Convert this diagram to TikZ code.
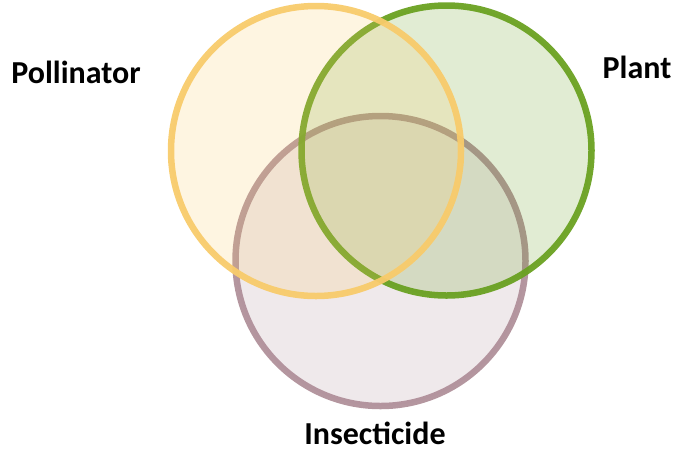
\documentclass[tikz,border=0pt]{standalone}
\usepackage{fontspec}
\setmainfont{Carlito}
\usepackage{tikz}
\definecolor{vennPoll}{HTML}{F8CB6B}
\definecolor{vennPlant}{HTML}{6AA121}
\definecolor{vennInsect}{HTML}{B0909A}
\tikzset{
  venncircle/.style={
    circle, minimum size=290pt, inner sep=0pt, line width=6.5pt,
    fill opacity=0.2, draw opacity=0.95
  },
  vennlabel/.style={
    font=\fontsize{32}{38}\selectfont\bfseries, text=black, inner sep=0pt
  }
}

\begin{document}
\begin{tikzpicture}[x=1pt,y=-1pt]
  \useasboundingbox (0,0) rectangle (674,451);

  \node[venncircle, draw=vennInsect, fill=vennInsect] (insect) at (380.5,261) {};
  \node[venncircle, draw=vennPlant, fill=vennPlant] (plant) at (446.5,150.5) {};
  \node[venncircle, draw=vennPoll, fill=vennPoll] (poll) at (316,151) {};

  \node[vennlabel] (pollname) at (76,72) {Pollinator};
  \node[vennlabel] (plantname) at (637,67) {Plant};
  \node[vennlabel] (insectname) at (375,433) {Insecticide};
\end{tikzpicture}
\end{document}
